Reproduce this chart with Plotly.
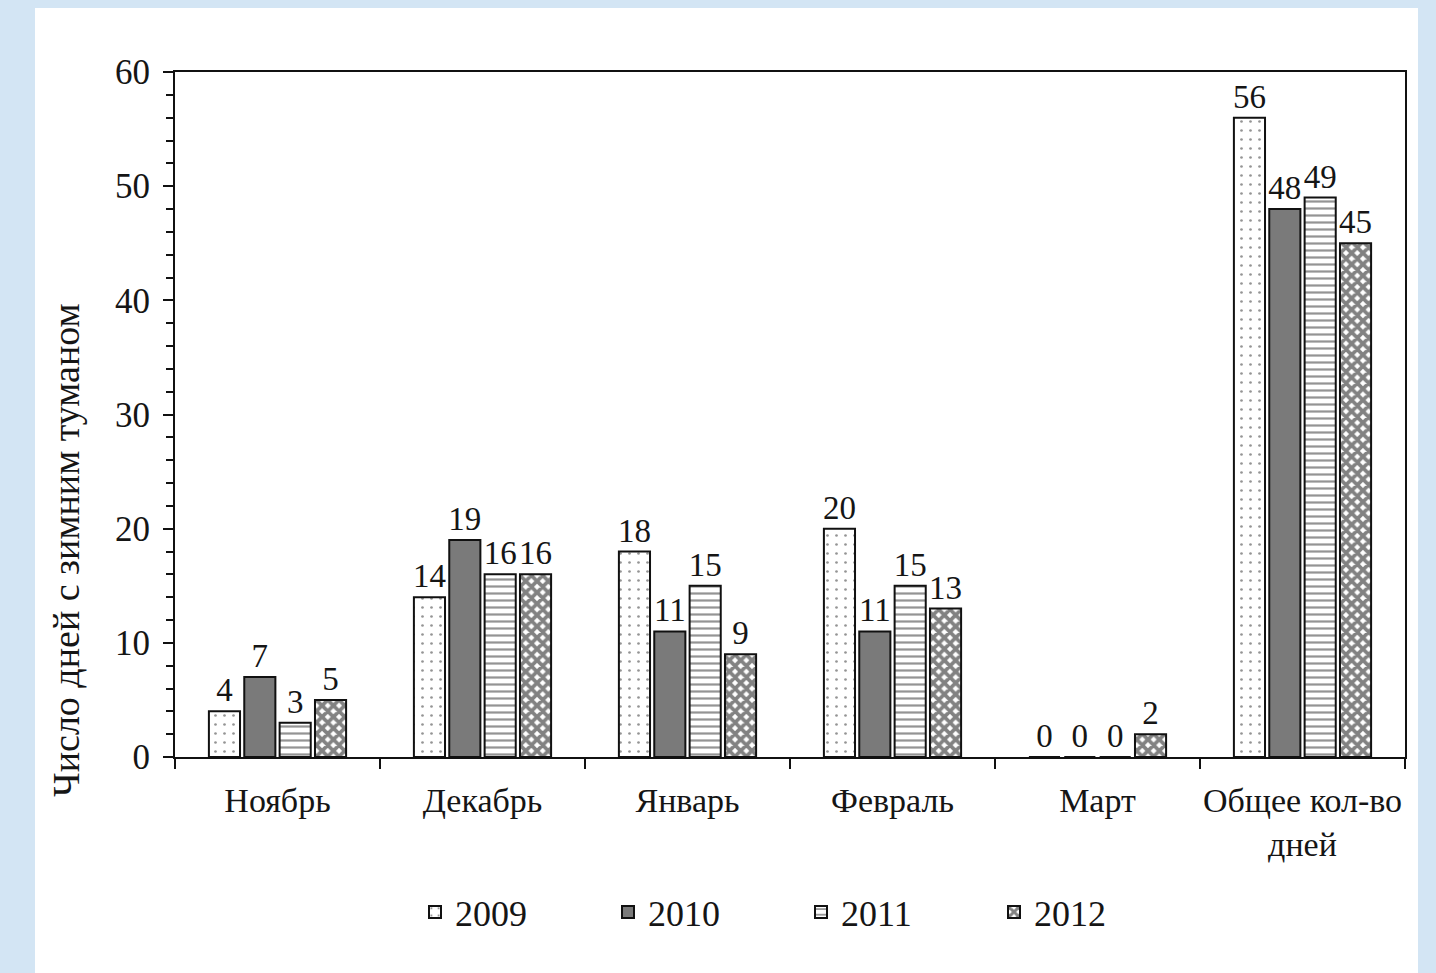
import plotly.graph_objects as go

# Winter fog days per month, by season year
months = ["Ноябрь", "Декабрь", "Январь", "Февраль", "Март", "Общее кол-во<br>дней"]
years = ["2009", "2010", "2011", "2012"]
days_2009 = [4, 14, 18, 20, 0, 56]
days_2010 = [7, 19, 11, 11, 0, 48]
days_2011 = [3, 16, 15, 15, 0, 49]
days_2012 = [5, 16, 9, 13, 2, 45]
y_ticks = [0, 10, 20, 30, 40, 50, 60]

FONT = "Liberation Serif"
INK = "#151515"

W, H = 1436, 973
L, R, T, B = 175, 31, 72, 216
PW, PH = W - L - R, H - T - B

def px_x(x):
    return (x - L) / PW

def px_y(y):
    return (H - B - y) / PH

styles = {
    "2009": dict(shape=".", fgcolor="#2a2a2a", bgcolor="white", size=9, solidity=0.07),
    "2010": dict(shape="", fgcolor="#7a7a7a", bgcolor="#7a7a7a"),
    "2011": dict(shape="-", fgcolor="#2a2a2a", bgcolor="white", size=7, solidity=0.32),
    "2012": dict(shape="x", fgcolor="#050505", bgcolor="white", size=8, solidity=0.72),
}
fills = {"2009": "white", "2010": "#7a7a7a", "2011": "white", "2012": "white"}
series = {"2009": days_2009, "2010": days_2010, "2011": days_2011, "2012": days_2012}

fig = go.Figure()
for yr in years:
    vals = series[yr]
    fig.add_trace(go.Bar(
        name=yr,
        x=months,
        y=vals,
        text=[str(v) for v in vals],
        textposition="outside",
        constraintext="none",
        cliponaxis=False,
        textfont=dict(family=FONT, size=33, color=INK),
        marker=dict(
            color=fills[yr],
            line=dict(color="#111111", width=2),
            pattern=styles[yr],
        ),
    ))

fig.update_layout(
    width=W, height=H,
    margin=dict(l=L, r=R, t=T, b=B, autoexpand=False),
    paper_bgcolor="#d3e5f4",
    plot_bgcolor="white",
    barmode="group",
    bargap=0.31,
    bargroupgap=0.12,
    font=dict(family=FONT, color=INK),
    showlegend=True,
    legend=dict(
        orientation="h",
        x=px_x(415), y=px_y(912),
        xanchor="left", yanchor="middle",
        font=dict(family=FONT, size=36, color=INK),
        entrywidth=148, entrywidthmode="pixels",
        bgcolor="rgba(0,0,0,0)",
        itemclick=False,
    ),
    shapes=[dict(
        type="rect", xref="paper", yref="paper", layer="below",
        x0=px_x(35), x1=px_x(1418), y0=px_y(1000), y1=px_y(8),
        fillcolor="white", line=dict(width=0),
    )],
    annotations=[dict(
        text="Число дней с зимним туманом",
        xref="paper", yref="paper",
        x=px_x(66), y=px_y(550),
        xanchor="center", yanchor="middle",
        textangle=-90, showarrow=False,
        font=dict(family=FONT, size=38, color=INK),
    )],
)

fig.update_xaxes(
    showline=True, linecolor="#111111", linewidth=2, mirror=True,
    tickson="boundaries", ticks="outside", ticklen=10, tickwidth=1.5, tickcolor="#111111",
    tickfont=dict(family=FONT, size=34, color=INK),
    tickangle=0, automargin=False,
    ticklabelstandoff=12,
    showgrid=False, zeroline=False,
)
fig.update_yaxes(
    range=[0, 60],
    tickmode="array", tickvals=y_ticks,
    showline=True, linecolor="#111111", linewidth=2, mirror=True,
    ticks="outside", ticklen=10, tickwidth=1.5, tickcolor="#111111",
    minor=dict(dtick=2, ticks="outside", ticklen=7, tickwidth=1.5, tickcolor="#111111"),
    tickfont=dict(family=FONT, size=35, color=INK),
    automargin=False,
    ticklabelstandoff=6,
    showgrid=False, zeroline=False,
)

fig.write_html("out.html")
